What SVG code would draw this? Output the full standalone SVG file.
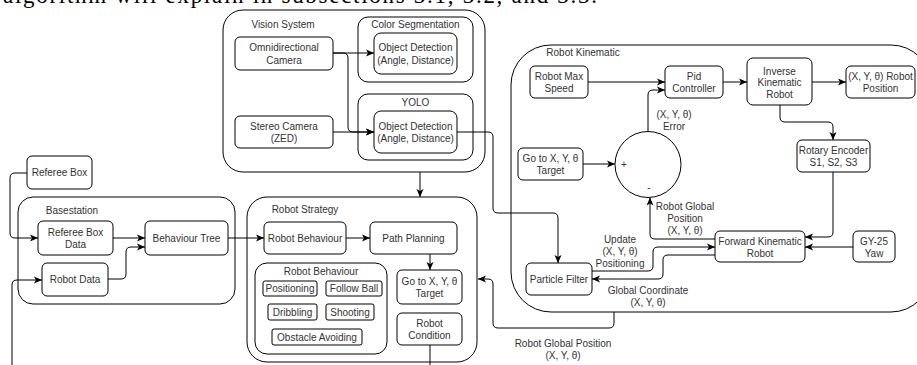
<svg xmlns="http://www.w3.org/2000/svg" width="917" height="365" viewBox="0 0 917 365">
<defs>
<marker id="ah" viewBox="0 0 8 8" refX="8" refY="4" markerWidth="8" markerHeight="8" markerUnits="userSpaceOnUse" orient="auto">
<path d="M0,0.5 L8,4 L0,7.5 L2,4 Z" fill="#000"/>
</marker>
<style>
.c{fill:#fff;stroke:#000;stroke-width:1}
.b{fill:#fff;stroke:#000;stroke-width:1}
.t{font-family:"Liberation Sans",Arial,Helvetica,sans-serif;font-size:10px;fill:#333;text-anchor:middle}
.e{fill:none;stroke:#000;stroke-width:1}
.a{marker-end:url(#ah)}
.p{font-family:"Liberation Serif","Times New Roman",serif;font-size:23px;fill:#000}
</style>
</defs>
<rect width="917" height="365" fill="#fff"/>
<text class="p" x="3" y="3" textLength="594" lengthAdjust="spacing">algorithm will explain in subsections 3.1, 3.2, and 3.3.</text>

<!-- containers -->
<g id="vision-system">
<rect class="c" x="223" y="10" width="262" height="162" rx="20"/>
<text class="t" x="283" y="28">Vision System</text>
</g>
<g id="color-segmentation">
<rect class="c" x="358" y="17" width="115" height="65" rx="10"/>
<text class="t" x="415.5" y="28">Color Segmentation</text>
</g>
<g id="yolo">
<rect class="c" x="358" y="94" width="115" height="66" rx="10"/>
<text class="t" x="415.5" y="105.5">YOLO</text>
</g>
<g id="basestation">
<rect class="c" x="18" y="197" width="217" height="107" rx="15"/>
<text class="t" x="72" y="213.5">Basestation</text>
</g>
<g id="robot-strategy">
<rect class="c" x="247" y="197" width="230" height="165" rx="20"/>
<text class="t" x="305" y="212.5">Robot Strategy</text>
</g>
<g id="robot-behaviour-group">
<rect class="c" x="255" y="263" width="132" height="91" rx="12"/>
<text class="t" x="321" y="274.5">Robot Behaviour</text>
</g>
<g id="robot-kinematic">
<rect class="c" x="511" y="45" width="420" height="267" rx="40"/>
<text class="t" x="583" y="55.5">Robot Kinematic</text>
</g>

<!-- connectors -->
<g id="connectors">
<path class="e a" d="M333,53 H374"/>
<path class="e a" d="M333,53 H343 Q348,53 348,58 V127 Q348,132 353,132 H374"/>
<path class="e a" d="M333,132 H374"/>
<path class="e a" d="M457,132 H488 Q493,132 493,137 V208 Q493,213 498,213 H553 Q558,213 558,218 V263"/>
<path class="e a" d="M420,172 V197"/>
<path class="e a" d="M27,173 H15 Q10,173 10,178 V233 Q10,238 15,238 H38"/>
<path class="e a" d="M113,238 H145"/>
<path class="e a" d="M108,279 H121 Q126,279 126,274 V252 Q126,247 131,247 H145"/>
<path class="e a" d="M228,238 H264"/>
<path class="e a" d="M12,365 V285 Q12,280 17,280 H42"/>
<path class="e a" d="M346,238 H370"/>
<path class="e a" d="M430,254 V270"/>
<path class="e" d="M430,345 V365"/>
<path class="e a" d="M614,312 V323 Q614,328 609,328 H498 Q493,328 493,323 V284 Q493,279 488,279 H478"/>
<path class="e a" d="M588,82 H665"/>
<path class="e a" d="M648,132 V95 Q648,90 653,90 H665"/>
<path class="e a" d="M583,164 H615"/>
<path class="e a" d="M723,82 H747"/>
<path class="e a" d="M812,82 H846"/>
<path class="e a" d="M780,105 V117 Q780,122 785,122 H828 Q833,122 833,127 V140"/>
<path class="e a" d="M833,172 V232 Q833,237 828,237 H805"/>
<path class="e a" d="M853,247 H805"/>
<path class="e a" d="M715,239 H655 Q650,239 650,234 V197.5"/>
<path class="e a" d="M592,271 H648 Q653,271 653,266 V252 Q653,247 658,247 H715"/>
<path class="e a" d="M715,255 H668 Q663,255 663,260 V274 Q663,279 658,279 H592"/>
<text class="t" x="674" y="117.5">(X, Y, θ)</text>
<text class="t" x="674" y="129.5">Error</text>
<text class="t" x="685" y="209.5">Robot Global</text>
<text class="t" x="685" y="221.5">Position</text>
<text class="t" x="685" y="233.5">(X, Y, θ)</text>
<text class="t" x="620" y="242.5">Update</text>
<text class="t" x="620" y="254.5">(X, Y, θ)</text>
<text class="t" x="620" y="266.5">Positioning</text>
<text class="t" x="648" y="293.5">Global Coordinate</text>
<text class="t" x="648" y="306">(X, Y, θ)</text>
<text class="t" x="563" y="346.5">Robot Global Position</text>
<text class="t" x="563" y="359">(X, Y, θ)</text>
</g>

<!-- nodes -->
<g id="omni-camera">
<rect class="b" x="235" y="37" width="98" height="33" rx="5"/>
<text class="t" x="284" y="51">Omnidirectional</text>
<text class="t" x="284" y="63.5">Camera</text>
</g>
<g id="stereo-camera">
<rect class="b" x="235" y="116" width="98" height="32" rx="5"/>
<text class="t" x="284" y="129.5">Stereo Camera</text>
<text class="t" x="284" y="141.5">(ZED)</text>
</g>
<g id="color-object-detection">
<rect class="b" x="374" y="33" width="83" height="41" rx="7"/>
<text class="t" x="415.5" y="50.5">Object Detection</text>
<text class="t" x="415.5" y="63.5">(Angle, Distance)</text>
</g>
<g id="yolo-object-detection">
<rect class="b" x="374" y="111" width="83" height="42" rx="7"/>
<text class="t" x="415.5" y="129.5">Object Detection</text>
<text class="t" x="415.5" y="141.5">(Angle, Distance)</text>
</g>
<g id="referee-box">
<rect class="b" x="27" y="156" width="65" height="33" rx="5"/>
<text class="t" x="59.5" y="176">Referee Box</text>
</g>
<g id="referee-box-data">
<rect class="b" x="38" y="221" width="75" height="34" rx="5"/>
<text class="t" x="75.5" y="235.5">Referee Box</text>
<text class="t" x="75.5" y="247.5">Data</text>
</g>
<g id="robot-data">
<rect class="b" x="42" y="263" width="66" height="33" rx="5"/>
<text class="t" x="75" y="282.5">Robot Data</text>
</g>
<g id="behaviour-tree">
<rect class="b" x="145" y="221" width="83" height="34" rx="5"/>
<text class="t" x="186.5" y="241.5">Behaviour Tree</text>
</g>
<g id="robot-behaviour">
<rect class="b" x="264" y="222" width="82" height="32" rx="5"/>
<text class="t" x="305" y="241.5">Robot Behaviour</text>
</g>
<g id="path-planning">
<rect class="b" x="370" y="222" width="87" height="32" rx="5"/>
<text class="t" x="413.5" y="241.5">Path Planning</text>
</g>
<g id="positioning">
<rect class="b" x="263" y="281" width="54" height="15" rx="2"/>
<text class="t" x="290" y="292">Positioning</text>
</g>
<g id="follow-ball">
<rect class="b" x="326" y="281" width="56" height="15" rx="2"/>
<text class="t" x="354" y="292">Follow Ball</text>
</g>
<g id="dribbling">
<rect class="b" x="268" y="304" width="49" height="16" rx="2"/>
<text class="t" x="292.5" y="315.5">Dribbling</text>
</g>
<g id="shooting">
<rect class="b" x="326" y="304" width="48" height="16" rx="2"/>
<text class="t" x="350" y="315.5">Shooting</text>
</g>
<g id="obstacle-avoiding">
<rect class="b" x="272" y="329" width="90" height="16" rx="2"/>
<text class="t" x="317" y="340.5">Obstacle Avoiding</text>
</g>
<g id="strategy-goto-target">
<rect class="b" x="397" y="270" width="65" height="34" rx="5"/>
<text class="t" x="429.5" y="284.5">Go to X, Y, θ</text>
<text class="t" x="429.5" y="296.5">Target</text>
</g>
<g id="robot-condition">
<rect class="b" x="397" y="313" width="65" height="32" rx="5"/>
<text class="t" x="429.5" y="326.5">Robot</text>
<text class="t" x="429.5" y="338.5">Condition</text>
</g>
<g id="robot-max-speed">
<rect class="b" x="530" y="66" width="58" height="32" rx="5"/>
<text class="t" x="559" y="79.5">Robot Max</text>
<text class="t" x="559" y="91.5">Speed</text>
</g>
<g id="pid-controller">
<rect class="b" x="665" y="66" width="58" height="32" rx="5"/>
<text class="t" x="694" y="79.5">Pid</text>
<text class="t" x="694" y="91.5">Controller</text>
</g>
<g id="inverse-kinematic">
<rect class="b" x="747" y="58" width="65" height="47" rx="6"/>
<text class="t" x="779.5" y="74.5">Inverse</text>
<text class="t" x="779.5" y="86">Kinematic</text>
<text class="t" x="779.5" y="97.5">Robot</text>
</g>
<g id="robot-position">
<rect class="b" x="846" y="66" width="69" height="32" rx="5"/>
<text class="t" x="880.5" y="79.5">(X, Y, θ) Robot</text>
<text class="t" x="880.5" y="91.5">Position</text>
</g>
<g id="rotary-encoder">
<rect class="b" x="797" y="140" width="73" height="32" rx="5"/>
<text class="t" x="833.5" y="153.5">Rotary Encoder</text>
<text class="t" x="833.5" y="165.5">S1, S2, S3</text>
</g>
<g id="kinematic-goto-target">
<rect class="b" x="518" y="148" width="65" height="32" rx="5"/>
<text class="t" x="550.5" y="161.5">Go to X, Y, θ</text>
<text class="t" x="550.5" y="173.5">Target</text>
</g>
<g id="summing-junction">
<circle class="b" cx="648" cy="164.5" r="33"/>
<text class="t" x="624" y="167.5">+</text>
<text class="t" x="649" y="191">-</text>
</g>
<g id="forward-kinematic">
<rect class="b" x="715" y="231" width="90" height="31" rx="5"/>
<text class="t" x="760" y="244.5">Forward Kinematic</text>
<text class="t" x="760" y="256.5">Robot</text>
</g>
<g id="gy25-yaw">
<rect class="b" x="853" y="231" width="42" height="31" rx="5"/>
<text class="t" x="874" y="244.5">GY-25</text>
<text class="t" x="874" y="256.5">Yaw</text>
</g>
<g id="particle-filter">
<rect class="b" x="526" y="263" width="66" height="32" rx="5"/>
<text class="t" x="559" y="282.5">Particle Filter</text>
</g>
</svg>
